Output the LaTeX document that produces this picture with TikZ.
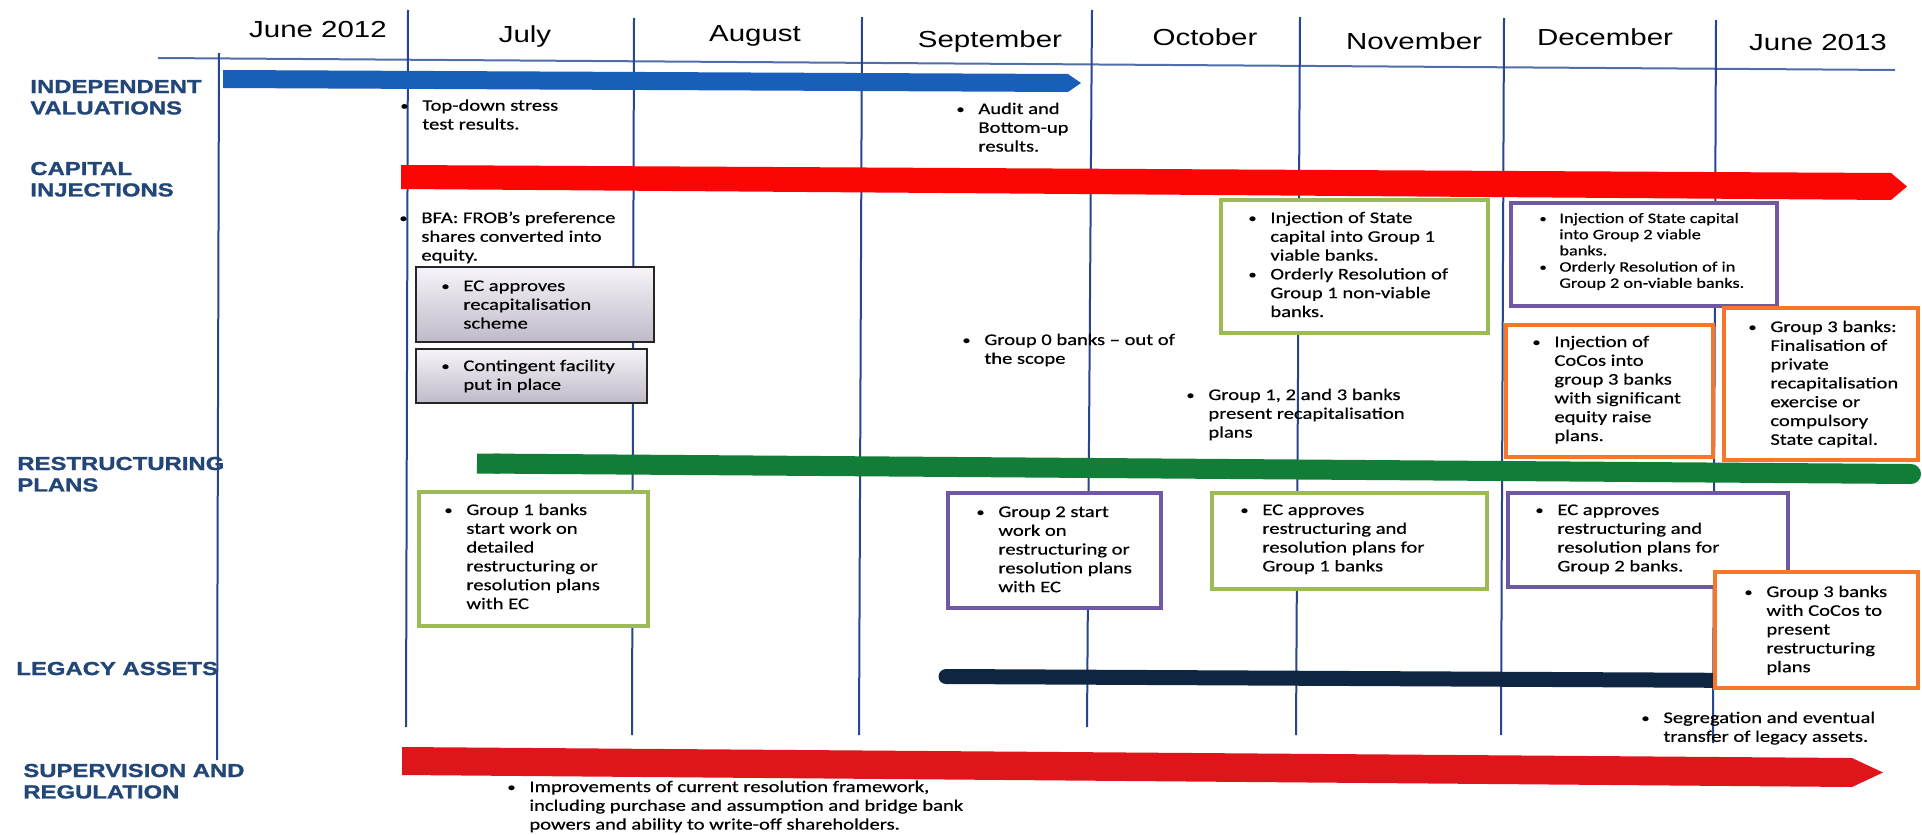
\documentclass[tikz,border=0pt]{standalone}
\usepackage{fontspec}
\setmainfont{Carlito}[FakeStretch=1.27,FakeBold=0.5]
\newfontfamily\arialf{Liberation Sans}[FakeStretch=1.27]
\newfontfamily\labelf{Liberation Sans Bold}[FakeStretch=1.27,FakeBold=1.2]

\definecolor{vline}{RGB}{40,70,140}
\definecolor{hline}{RGB}{80,110,170}
\definecolor{lblue}{RGB}{35,70,120}
\definecolor{barblue}{RGB}{25,95,185}
\definecolor{barred}{RGB}{252,5,5}
\definecolor{barred2}{RGB}{222,22,28}
\definecolor{bargreen}{RGB}{18,125,55}
\definecolor{barnavy}{RGB}{14,38,66}
\definecolor{olivec}{RGB}{155,187,89}
\definecolor{purpc}{RGB}{112,88,165}
\definecolor{orngc}{RGB}{247,118,40}
\definecolor{gtop}{RGB}{246,244,249}
\definecolor{gbot}{RGB}{192,186,200}

\newcommand{\bu}{\raisebox{0.3pt}{\scalebox{0.8}{\textbullet}}}
\newcommand{\items}[1]{\begin{tabular}[t]{@{}p{11pt}@{}l@{}}#1\end{tabular}}
\newcommand{\itemss}[1]{\begin{tabular}[t]{@{}p{10pt}@{}l@{}}#1\end{tabular}}
\newcommand{\lines}[1]{\begin{tabular}[t]{@{}l@{}}#1\end{tabular}}

\tikzset{
  month/.style={font=\arialf\fontsize{11.6}{14}\selectfont, anchor=base, inner sep=0},
  lbl/.style={font=\labelf\fontsize{9.4}{10.7}\selectfont, text=lblue, anchor=base west, inner sep=0},
  txt/.style={font=\fontsize{8.1}{9.4}\selectfont, anchor=base west, inner sep=0},
  txtsmall/.style={font=\fontsize{7.2}{8.1}\selectfont, anchor=base west, inner sep=0},
  vl/.style={draw=vline, line width=1pt},
  hl/.style={draw=hline, line width=1pt},
  olivebox/.style={draw=olivec, fill=white, line width=1.8pt},
  purpbox/.style={draw=purpc, fill=white, line width=1.8pt},
  orngbox/.style={draw=orngc, fill=white, line width=1.8pt},
  graybox/.style={draw=black!85, line width=1.1pt, top color=gtop, bottom color=gbot},
}

\begin{document}
\begin{tikzpicture}[x=0.5pt,y=-0.5pt]
\useasboundingbox (0,0) rectangle (1922,835);
\fill[white] (0,0) rectangle (1922,835);

% header line
\coordinate (hA) at (158,58);
\coordinate (hB) at (1895,70);
\draw[hl] (hA) -- (hB);

% month separators
\coordinate (v0t) at (219,53);   \coordinate (v0b) at (217,760);
\coordinate (v1t) at (408,10);   \coordinate (v1b) at (406,727);
\coordinate (v2t) at (634,18);   \coordinate (v2b) at (632,735);
\coordinate (v3t) at (862,17);   \coordinate (v3b) at (859,735);
\coordinate (v4t) at (1092,10);  \coordinate (v4b) at (1087,727);
\coordinate (v5t) at (1300,17);  \coordinate (v5b) at (1296,735);
\coordinate (v6t) at (1504,18);  \coordinate (v6b) at (1501,735);
\coordinate (v7t) at (1716,20);  \coordinate (v7b) at (1713,743);
\foreach \i in {0,...,7} {\draw[vl] (v\i t) -- (v\i b);}

% months
\node[month] (m0) at (318,37) {June 2012};
\node[month] (m1) at (525,42) {July};
\node[month] (m2) at (755,41) {August};
\node[month] (m3) at (990,47) {September};
\node[month] (m4) at (1205,45) {October};
\node[month] (m5) at (1414,49) {November};
\node[month] (m6) at (1605,46) {December};
\node[month] (m7) at (1818,50) {June 2013};

% row labels
\node[lbl] (l1) at (30,93) {\lines{INDEPENDENT\\VALUATIONS}};
\node[lbl] (l2) at (30,175) {\lines{CAPITAL\\INJECTIONS}};
\node[lbl] (l3) at (17,470) {\lines{RESTRUCTURING\\PLANS}};
\node[lbl] (l4) at (16,675) {LEGACY ASSETS};
\node[lbl] (l5) at (23,777) {\lines{SUPERVISION AND\\REGULATION}};

% bars
\fill[barblue] (223,70) -- (1068,74) -- (1081,83) -- (1068,92) -- (223,88) -- cycle;
\fill[barred] (401,165) -- (1891,173) -- (1907,186.5) -- (1891,200) -- (401,189) -- cycle;
\draw[bargreen, line width=10pt, line cap=round] (495,463.6) -- (1911,474);
\draw[bargreen, line width=10pt] (477,463.5) -- (500,463.6);
\draw[barnavy, line width=7.5pt, line cap=round] (946,676.5) -- (1858,681);
\fill[barred2] (402,747) -- (1852,758) -- (1883,772.5) -- (1852,787) -- (402,775) -- cycle;

% boxes
\draw[graybox] (416,267) rectangle (654,342);
\draw[graybox] (416,349) rectangle (647,403);
\draw[olivebox] (1221,200) rectangle (1488,333);
\draw[purpbox] (1511,203) rectangle (1777,306);
\draw[orngbox] (1506,325) rectangle (1713,457);
\draw[orngbox] (1724,308) rectangle (1918,460);
\draw[olivebox] (419,492) rectangle (648,626);
\draw[purpbox] (948,493) rectangle (1161,608);
\draw[olivebox] (1212,493) rectangle (1487,589);
\draw[purpbox] (1508,493) rectangle (1788,587);
\draw[orngbox] (1715,572) rectangle (1918,688);

% texts
\node[txt] (t1) at (400,110.7) {\items{\bu & Top-down stress\\ & test results.}};
\node[txt] (t2) at (956,114) {\items{\bu & Audit and\\ & Bottom-up\\ & results.}};
\node[txt] (t3) at (399,223) {\items{\bu & BFA: FROB's preference\\ & shares converted into\\ & equity.}};
\node[txt] (t4) at (441,291) {\items{\bu & EC approves\\ & recapitalisation\\ & scheme}};
\node[txt] (t5) at (441,371) {\items{\bu & Contingent facility\\ & put in place}};
\node[txt] (t6) at (1248,223) {\items{\bu & Injection of State\\ & capital into Group 1\\ & viable banks.\\ \bu & Orderly Resolution of\\ & Group 1 non-viable\\ & banks.}};
\node[txtsmall] (t7) at (1539,223) {\itemss{\bu & Injection of State capital\\ & into Group 2 viable\\ & banks.\\ \bu & Orderly Resolution of in\\ & Group 2 on-viable banks.}};
\node[txt] (t8) at (1532,347) {\items{\bu & Injection of\\ & CoCos into\\ & group 3 banks\\ & with significant\\ & equity raise\\ & plans.}};
\node[txt] (t9) at (1748,332) {\items{\bu & Group 3 banks:\\ & Finalisation of\\ & private\\ & recapitalisation\\ & exercise or\\ & compulsory\\ & State capital.}};
\node[txt] (t10) at (962,345) {\items{\bu & Group 0 banks -- out of\\ & the scope}};
\node[txt] (t11) at (1186,400) {\items{\bu & Group 1, 2 and 3 banks\\ & present recapitalisation\\ & plans}};
\node[txt] (t12) at (444,515) {\items{\bu & Group 1 banks\\ & start work on\\ & detailed\\ & restructuring or\\ & resolution plans\\ & with EC}};
\node[txt] (t13) at (976,517) {\items{\bu & Group 2 start\\ & work on\\ & restructuring or\\ & resolution plans\\ & with EC}};
\node[txt] (t14) at (1240,515) {\items{\bu & EC approves\\ & restructuring and\\ & resolution plans for\\ & Group 1 banks}};
\node[txt] (t15) at (1535,515) {\items{\bu & EC approves\\ & restructuring and\\ & resolution plans for\\ & Group 2 banks.}};
\node[txt] (t16) at (1744,597) {\items{\bu & Group 3 banks\\ & with CoCos to\\ & present\\ & restructuring\\ & plans}};
\node[txt] (t17) at (1641,723) {\items{\bu & Segregation and eventual\\ & transfer of legacy assets.}};
\node[txt] (t18) at (507,792) {\items{\bu & Improvements of current resolution framework,\\ & including purchase and assumption and bridge bank\\ & powers and ability to write-off shareholders.}};
\end{tikzpicture}
\end{document}
